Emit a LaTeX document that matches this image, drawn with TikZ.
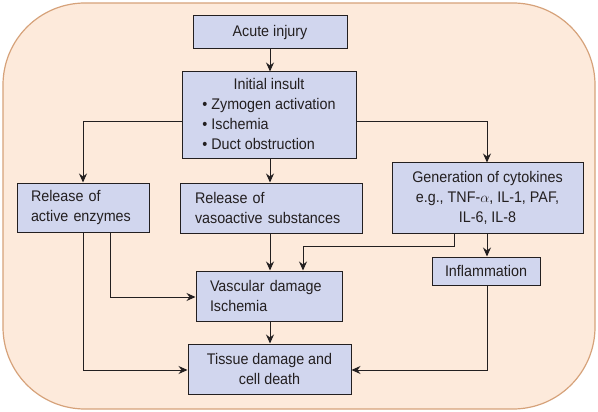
\documentclass[tikz,border=0pt]{standalone}
\usepackage{fontspec}
\setmainfont{Liberation Sans}[FakeStretch=0.93]
\usetikzlibrary{arrows.meta}
\definecolor{peach}{RGB}{253,234,219}
\definecolor{peachline}{RGB}{214,162,122}
\definecolor{boxfill}{RGB}{209,214,238}
\definecolor{ink}{RGB}{35,31,32}
\begin{document}
\begin{tikzpicture}[x=1pt,y=-1pt,
  every node/.style={font=\fontsize{15.4}{20}\selectfont, text=ink},
  box/.style={draw=ink, line width=1pt, fill=boxfill, inner sep=0pt, anchor=center},
  arr/.style={draw=ink, line width=1pt, -{Stealth[length=9pt,width=8pt,inset=3pt]}},
  ln/.style={draw=ink, line width=1pt}]
\useasboundingbox (0,0) rectangle (598,412);
\draw[fill=peach, draw=peachline, line width=1.2pt, rounded corners=82pt] (3,3) rectangle (595,409);

\node[box, minimum width=154pt, minimum height=33pt] (acute) at (270,32.5) {Acute injury};
\node[box, minimum width=174pt, minimum height=87pt] (init) at (269,115.5)
  {\begin{tabular}{@{}l@{}}\multicolumn{1}{@{}c@{}}{Initial insult}\\[-0.5pt]
   \textbullet\ Zymogen activation\\ \textbullet\ Ischemia\\ \textbullet\ Duct obstruction\end{tabular}};
\node[box, minimum width=132pt, minimum height=49pt, text width=104pt, align=left] (enz) at (83,207.5)
  {Release of\\active enzymes};
\node[box, minimum width=182pt, minimum height=50pt, text width=152pt, align=left] (vaso) at (271,208)
  {Release of\\vasoactive substances};
\node[box, minimum width=191pt, minimum height=70pt, align=center] (cyto) at (487.5,198)
  {Generation of cytokines\\e.g., TNF-$\alpha$, IL-1, PAF,\\IL-6, IL-8};
\node[box, minimum width=146pt, minimum height=50pt, text width=118pt, align=left] (vasc) at (269,296)
  {Vascular damage\\Ischemia};
\node[box, minimum width=163pt, minimum height=50pt, align=center] (tissue) at (269.5,369)
  {Tissue damage and\\cell death};
\node[box, minimum width=108pt, minimum height=28pt] (infl) at (486,271) {Inflammation};

\draw[arr] (acute.south -| 270,0) -- (init.north -| 270,0);
\draw[arr] (init.west |- 0,122) -| (enz.north -| 83,0);
\draw[arr] (init.south -| 270,0) -- (vaso.north -| 270,0);
\draw[arr] (init.east |- 0,122) -| (cyto.north -| 487,0);
\draw[arr] (enz.south -| 110,0) |- (vasc.west |- 0,297);
\draw[arr] (enz.south -| 83,0) |- (tissue.west |- 0,370);
\draw[arr] (vaso.south -| 270,0) -- (vasc.north -| 270,0);
\draw[arr] (cyto.south -| 454,0) -- (454,246) -| (vasc.north -| 303,0);
\draw[arr] (cyto.south -| 487,0) -- (infl.north -| 487,0);
\draw[arr] (infl.south -| 487,0) |- (tissue.east |- 0,370);
\draw[arr] (vasc.south -| 270,0) -- (tissue.north -| 270,0);
\end{tikzpicture}
\end{document}
